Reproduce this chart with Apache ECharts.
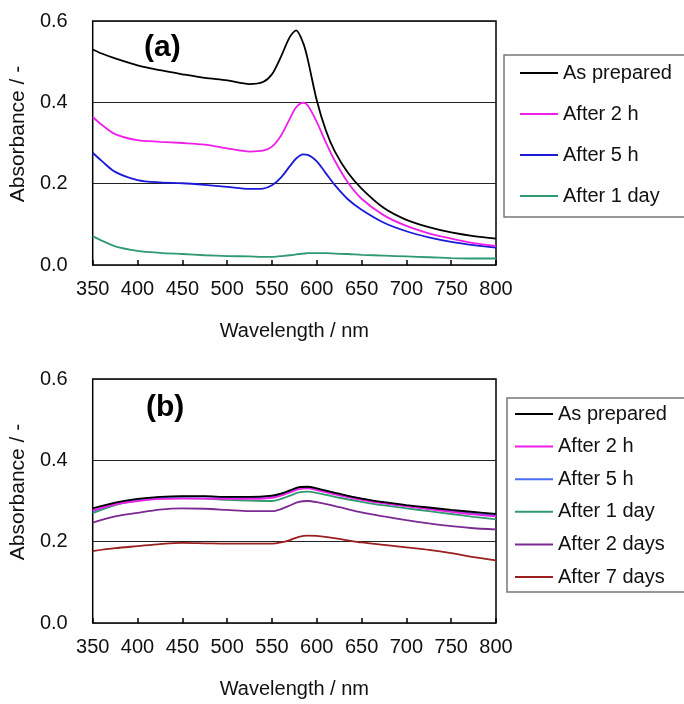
<!DOCTYPE html>
<html><head><meta charset="utf-8">
<script src="https://cdn.jsdelivr.net/npm/echarts@6/dist/echarts.min.js"></script>
<style>html,body{margin:0;padding:0;background:#fff}#c{width:684px;height:704px}</style>
</head><body><div id="c"></div>
<script>
// ---- Data: panel (a)
const wlA = [350,360,375,400,425,450,475,500,525,540,550,560,570,577,585,590,600,610,620,635,650,675,700,725,750,775,800];
const asPreparedA = [0.530,0.520,0.508,0.491,0.479,0.469,0.460,0.454,0.445,0.450,0.469,0.512,0.561,0.577,0.545,0.505,0.405,0.332,0.280,0.226,0.188,0.140,0.111,0.093,0.080,0.071,0.065];
const after2hA   = [0.364,0.345,0.322,0.307,0.303,0.300,0.296,0.287,0.279,0.281,0.291,0.318,0.360,0.388,0.399,0.392,0.352,0.302,0.257,0.202,0.163,0.122,0.096,0.078,0.065,0.054,0.047];
const after5hA   = [0.276,0.256,0.229,0.209,0.203,0.201,0.197,0.192,0.187,0.188,0.196,0.215,0.243,0.262,0.272,0.271,0.255,0.226,0.197,0.161,0.136,0.104,0.083,0.068,0.057,0.049,0.043];
const after1dA   = [0.071,0.060,0.046,0.035,0.030,0.027,0.024,0.022,0.021,0.020,0.020,0.022,0.024,0.026,0.028,0.029,0.029,0.029,0.028,0.027,0.025,0.023,0.021,0.019,0.017,0.016,0.016];
// ---- Data: panel (b)
const wlB = [350,375,400,425,450,475,500,525,550,560,570,580,590,600,625,650,675,700,725,750,775,800];
const asPreparedB = [0.282,0.296,0.305,0.310,0.312,0.312,0.310,0.310,0.313,0.318,0.326,0.334,0.335,0.331,0.318,0.306,0.297,0.290,0.284,0.278,0.273,0.268];
const after2hB   = [0.277,0.292,0.300,0.305,0.306,0.306,0.305,0.305,0.308,0.313,0.321,0.329,0.331,0.327,0.314,0.303,0.294,0.287,0.280,0.273,0.267,0.262];
const after5hB   = [0.275,0.293,0.303,0.309,0.311,0.311,0.309,0.309,0.312,0.317,0.325,0.332,0.333,0.329,0.316,0.305,0.295,0.288,0.281,0.275,0.269,0.264];
const after1dB   = [0.270,0.290,0.301,0.306,0.307,0.306,0.303,0.301,0.300,0.305,0.313,0.321,0.323,0.320,0.308,0.298,0.289,0.282,0.275,0.268,0.261,0.255];
const after2dB   = [0.247,0.262,0.271,0.279,0.282,0.281,0.278,0.275,0.275,0.280,0.289,0.298,0.300,0.297,0.285,0.272,0.262,0.253,0.245,0.238,0.233,0.230];
const after7dB   = [0.177,0.184,0.189,0.194,0.197,0.196,0.195,0.195,0.195,0.198,0.204,0.212,0.215,0.214,0.207,0.198,0.192,0.186,0.180,0.172,0.162,0.154];
const namesA = ['As prepared','After 2 h','After 5 h','After 1 day'];
const namesB = ['As prepared','After 2 h','After 5 h','After 1 day','After 2 days','After 7 days'];
const colorsA = ['#000000','#f01ee8','#1a1ad8','#2f9a70'];
const colorsB = ['#000000','#f01ee8','#4a6cf5','#2f9a70','#7a2a90','#9a1f1f'];

const FONT = 'Liberation Sans, Arial, sans-serif';
const zip = (xs, ys) => xs.map((x,i)=>[x,ys[i]]);

function xAx(gi){
  return {type:'value', gridIndex:gi, min:350, max:800, interval:50,
    name:'Wavelength / nm', nameLocation:'middle', nameGap:56,
    nameTextStyle:{fontFamily:FONT,fontSize:20,color:'#111'},
    axisLine:{show:false}, splitLine:{show:false},
    axisTick:{show:true, inside:true, length:5, lineStyle:{color:'#000',width:1.5}},
    axisLabel:{fontFamily:FONT,fontSize:20,color:'#111',margin:14}};
}
function yAx(gi){
  return {type:'value', gridIndex:gi, min:0, max:0.6, interval:0.2,
    name:'Absorbance / -', nameLocation:'middle', nameGap:49, nameRotate:90,
    nameTextStyle:{fontFamily:FONT,fontSize:21,color:'#111',padding:[0,0,0,18]},
    axisLine:{show:false}, axisTick:{show:false},
    splitLine:{show:true, lineStyle:{color:'#222',width:1}},
    axisLabel:{fontFamily:FONT,fontSize:20,color:'#111',margin:25,formatter:v=>v.toFixed(1)}};
}
const ysA = [asPreparedA,after2hA,after5hA,after1dA];
const ysB = [asPreparedB,after2hB,after5hB,after1dB,after2dB,after7dB];
const series = [];
ysA.forEach((ys,i)=>series.push({name:namesA[i]+' ', type:'line', xAxisIndex:0, yAxisIndex:0, data:zip(wlA,ys), smooth:0.3, symbol:'none', color:colorsA[i], lineStyle:{width:1.8,color:colorsA[i]}, z:10-i}));
ysB.forEach((ys,i)=>series.push({name:namesB[i], type:'line', xAxisIndex:1, yAxisIndex:1, data:zip(wlB,ys), smooth:0.3, symbol:'none', color:colorsB[i], lineStyle:{width:1.8,color:colorsB[i]}, z:10-i}));

const legendBase = {orient:'vertical', itemWidth:38, itemHeight:14,
  icon:'path://M0,6 L38,6 L38,8 L0,8 Z',
  backgroundColor:'#fff', borderColor:'#777', borderWidth:1.5,
  textStyle:{fontFamily:FONT,fontSize:20,color:'#111',lineHeight:20}, selectedMode:false};

const option = {
  animation:false, backgroundColor:'#fff',
  title:[
    {text:'(a)', left:139, top:28, textStyle:{fontFamily:FONT,fontSize:30,fontWeight:'bold',color:'#000'}},
    {text:'(b)', left:141, top:388, textStyle:{fontFamily:FONT,fontSize:30,fontWeight:'bold',color:'#000'}}
  ],
  grid:[
    {left:92, top:21, width:404, height:244, show:true, borderColor:'#000', borderWidth:1.5, backgroundColor:'transparent'},
    {left:91, top:379, width:405, height:244, show:true, borderColor:'#000', borderWidth:1.5, backgroundColor:'transparent'}
  ],
  xAxis:[xAx(0), xAx(1)],
  yAxis:[yAx(0), yAx(1)],
  legend:[
    Object.assign({}, legendBase, {left:504, top:55, itemGap:21, padding:[8,40,11,16],
      data:namesA.map((n,i)=>({name:n+' ', itemStyle:{color:colorsA[i]}})), formatter:n=>n.trim()}),
    Object.assign({}, legendBase, {left:507, top:398, itemGap:12.6, padding:[6,40,5,8],
      data:namesB.map((n,i)=>({name:n, itemStyle:{color:colorsB[i]}}))})
  ],
  series
};
const chart = echarts.init(document.getElementById('c'), null, {renderer:'canvas'});
chart.setOption(option);
</script></body></html>
